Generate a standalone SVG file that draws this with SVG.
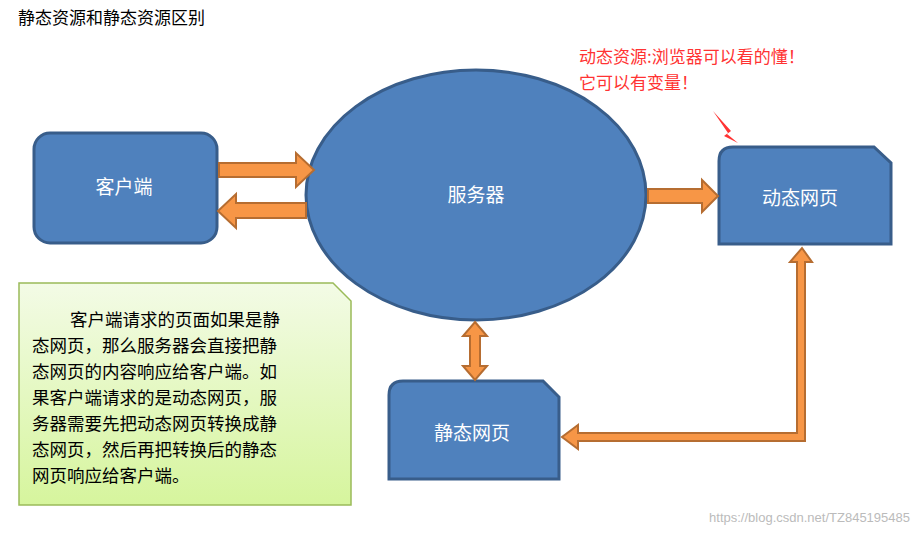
<svg xmlns="http://www.w3.org/2000/svg" width="919" height="536" viewBox="0 0 919 536">
<defs>
<style>
.node{fill:#4f81bd;stroke:#385d8a;stroke-width:3}
.wt{fill:#fff;font-family:"Noto Sans CJK SC",sans-serif;font-size:19px;text-anchor:middle}
.arr{fill:#f79646;stroke:#b66d31;stroke-width:2}
.bt{font-family:"Noto Sans CJK SC",sans-serif;font-size:17.5px;fill:#000}
.rt{font-family:"Noto Sans CJK SC",serif;font-size:17px;fill:#ff3333}
</style>
<linearGradient id="g" x1="0" y1="0" x2="0" y2="1"><stop offset="0" stop-color="#f3fbe6"/><stop offset="1" stop-color="#d6f59d"/></linearGradient>
</defs>
<rect width="919" height="536" fill="#fff"/>
<text x="18" y="24" font-family="Noto Sans CJK SC,serif" font-size="17" fill="#000">静态资源和静态资源区别</text>
<g id="client"><rect class="node" x="34" y="133" width="183" height="110" rx="16"/><text class="wt" x="124" y="194">客户端</text></g>
<g id="server"><ellipse class="node" cx="476" cy="195" rx="170" ry="125"/><text class="wt" x="476" y="202">服务器</text></g>
<g id="dynamic"><path class="node" d="M733,147 H874 L891,163 V244 H719 V161 Q719,147 733,147 Z"/><text class="wt" x="800" y="205">动态网页</text></g>
<g id="static"><path class="node" d="M403,381 H543 L559,397 V479 H389 V395 Q389,381 403,381 Z"/><text class="wt" x="472" y="440">静态网页</text></g>
<g id="note"><path d="M19,283 H333 L351,301 V505 H19 Z" fill="url(#g)" stroke="#9bbb59" stroke-width="1.5"/>
<text class="bt"><tspan x="70" y="326">客户端请求的页面如果是静</tspan><tspan x="32" y="352">态网页，那么服务器会直接把静</tspan><tspan x="32" y="378">态网页的内容响应给客户端。如</tspan><tspan x="32" y="404">果客户端请求的是动态网页，服</tspan><tspan x="32" y="430">务器需要先把动态网页转换成静</tspan><tspan x="32" y="456">态网页，然后再把转换后的静态</tspan><tspan x="32" y="482">网页响应给客户端。</tspan></text></g>
<g id="annotation"><text class="rt"><tspan x="579" y="63">动态资源:浏览器可以看的懂！</tspan><tspan x="579" y="89">它可以有变量！</tspan></text></g>
<g id="connectors">
<path class="arr" d="M219,163 H296 V153 L314,170 L296,187 V177 H219 Z"/>
<path class="arr" d="M306,203 H236 V194 L218,211 L236,228 V218 H306 Z"/>
<path class="arr" d="M648,189 H702 V180 L718,196 L702,212 V203 H648 Z"/>
<path class="arr" d="M475,322 L487,336 H480 V366 H487 L475,380 L463,366 H470 V336 H463 Z"/>
<path class="arr" d="M802,248 L812,262 H805 V441 H578 V449 L562,437 L578,425 V433 H797 V262 H790 Z"/>
<path d="M713,111 L731,131 L727,134 L738,143 L724,136 L728,133 Z" fill="#ff3333"/>
</g>
<text x="910" y="522" font-family="Liberation Sans,sans-serif" font-size="13" fill="#bbb" text-anchor="end">https://blog.csdn.net/TZ845195485</text>
</svg>
